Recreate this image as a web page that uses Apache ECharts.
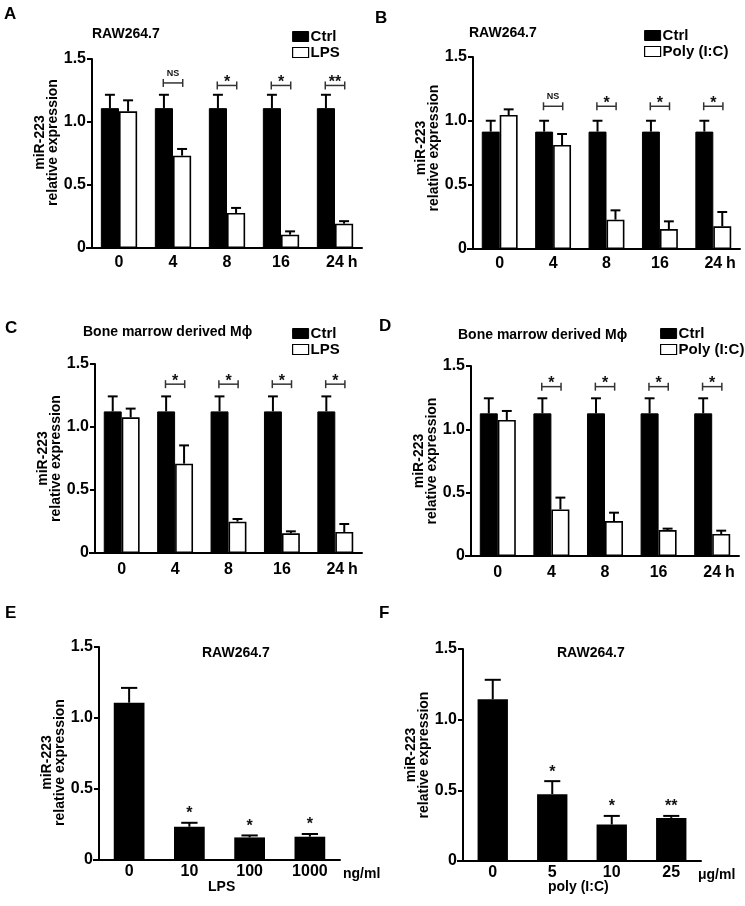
<!DOCTYPE html>
<html><head><meta charset="utf-8">
<script src="https://cdn.jsdelivr.net/npm/echarts@6/dist/echarts.min.js"></script>
<style>html,body{margin:0;padding:0;background:#fff}#c{width:745px;height:906px}</style>
</head><body><div id="c"></div>
<script>
// ---------- data ----------
const timeCats = ['0', '4', '8', '16', '24'];
const eCats = ['0', '10', '100', '1000'];
const fCats = ['0', '5', '10', '25'];
const yTickLabels = {0: '0', 0.5: '0.5', 1: '1.0', 1.5: '1.5'};

// A: RAW264.7, Ctrl vs LPS
const aCtrl = [1.11, 1.11, 1.11, 1.11, 1.11];
const aCtrlErr = [0.106, 0.106, 0.106, 0.106, 0.106];
const aLps = [1.085, 0.733, 0.278, 0.106, 0.193];
const aLpsErr = [0.087, 0.053, 0.04, 0.026, 0.02];
const aSig = [null, 'NS', '*', '*', '**'];
const aSigY = [null, 1.31, 1.29, 1.29, 1.29];

// B: RAW264.7, Ctrl vs Poly (I:C)
const bCtrl = [0.917, 0.917, 0.917, 0.917, 0.917];
const bCtrlErr = [0.085, 0.085, 0.085, 0.085, 0.085];
const bPoly = [1.047, 0.8125, 0.229, 0.156, 0.177];
const bPolyErr = [0.044, 0.086, 0.073, 0.06, 0.112];
const bSig = [null, 'NS', '*', '*', '*'];
const bSigY = [null, 1.115, 1.115, 1.115, 1.115];

// C: Bone marrow derived Mϕ, Ctrl vs LPS
const cCtrl = [1.124, 1.124, 1.124, 1.124, 1.124];
const cCtrlErr = [0.119, 0.119, 0.119, 0.119, 0.119];
const cLps = [1.077, 0.709, 0.249, 0.156, 0.167];
const cLpsErr = [0.069, 0.145, 0.021, 0.016, 0.063];
const cSig = [null, '*', '*', '*', '*'];
const cSigY = [null, 1.34, 1.34, 1.34, 1.34];

// D: Bone marrow derived Mϕ, Ctrl vs Poly (I:C)
const dCtrl = [1.126, 1.126, 1.126, 1.126, 1.126];
const dCtrlErr = [0.119, 0.119, 0.119, 0.119, 0.119];
const dPoly = [1.074, 0.368, 0.276, 0.205, 0.174];
const dPolyErr = [0.071, 0.093, 0.066, 0.011, 0.026];
const dSig = [null, '*', '*', '*', '*'];
const dSigY = [null, 1.337, 1.337, 1.337, 1.337];

// E: RAW264.7, LPS dose (ng/ml)
const eVals = [1.108, 0.234, 0.159, 0.164];
const eErr = [0.104, 0.028, 0.014, 0.019];
const eSig = [null, '*', '*', '*'];

// F: RAW264.7, poly (I:C) dose (μg/ml)
const fVals = [1.145, 0.473, 0.258, 0.305];
const fErr = [0.137, 0.092, 0.061, 0.014];
const fSig = [null, '*', '*', '**'];

// ---------- layout ----------
const FONT = 'Arial, "Liberation Sans", Helvetica, sans-serif';
const grids = [
  {left: 92, top: 59, width: 270, height: 189},
  {left: 473, top: 57, width: 267, height: 192},
  {left: 95, top: 364, width: 267, height: 189},
  {left: 471, top: 366, width: 268, height: 190},
  {left: 99, top: 647, width: 241, height: 213},
  {left: 463, top: 649, width: 238, height: 212}
];
const labelMargins = [7, 7, 9, 9, 4, 4];
const namePads = [22, 10, 0, 0, -18, 0];

const BAR_W2 = 0.336; // two bars per band
const BAR_W1 = 0.51;  // one bar per band

function errRender(offsetFrac, capFrac) {
  return function (params, api) {
    const x = api.value(0), v = api.value(1), e = api.value(2), side = api.value(3);
    const band = api.size([1, 0])[0];
    const p0 = api.coord([x, v]);
    const p1 = api.coord([x, v + e]);
    const cx = p0[0] + side * band * offsetFrac;
    const hw = band * capFrac / 2;
    return {type: 'group', children: [
      {type: 'line', shape: {x1: cx, y1: p0[1], x2: cx, y2: p1[1]}, style: {stroke: '#000', lineWidth: 2}},
      {type: 'line', shape: {x1: cx - hw, y1: p1[1], x2: cx + hw, y2: p1[1]}, style: {stroke: '#000', lineWidth: 2}}
    ]};
  };
}

function bracketRender(texts) {
  return function (params, api) {
    const x = api.value(0), y = api.value(1);
    const band = api.size([1, 0])[0];
    const p = api.coord([x, y]);
    const hw = band * 0.18;
    const t = texts[params.dataIndex];
    const isNS = t === 'NS';
    return {type: 'group', children: [
      {type: 'line', shape: {x1: p[0] - hw, y1: p[1], x2: p[0] + hw, y2: p[1]}, style: {stroke: '#333', lineWidth: 1.5}},
      {type: 'line', shape: {x1: p[0] - hw, y1: p[1] - 4, x2: p[0] - hw, y2: p[1] + 4}, style: {stroke: '#333', lineWidth: 1.5}},
      {type: 'line', shape: {x1: p[0] + hw, y1: p[1] - 4, x2: p[0] + hw, y2: p[1] + 4}, style: {stroke: '#333', lineWidth: 1.5}},
      {type: 'text', x: p[0], y: isNS ? p[1] - 5 : p[1] + 5,
        style: {text: t, fill: '#111', font: 'bold ' + (isNS ? 9 : 16) + 'px ' + FONT, align: 'center', verticalAlign: 'bottom'}}
    ]};
  };
}

function starRender(texts) {
  return function (params, api) {
    const x = api.value(0), y = api.value(1);
    const p = api.coord([x, y]);
    return {type: 'text', x: p[0], y: p[1] - 1,
      style: {text: texts[params.dataIndex], fill: '#111', font: 'bold 16px ' + FONT, align: 'center', verticalAlign: 'bottom'}};
  };
}

const option = {
  animation: false,
  backgroundColor: '#fff',
  textStyle: {fontFamily: FONT},
  grid: grids.map(g => Object.assign({containLabel: false}, g)),
  xAxis: [],
  yAxis: [],
  series: [],
  legend: [],
  title: [],
  graphic: []
};

grids.forEach((g, i) => {
  const cats = i < 4 ? timeCats : (i === 4 ? eCats : fCats);
  const xa = {
    type: 'category', gridIndex: i, data: cats, boundaryGap: true,
    axisLine: {lineStyle: {color: '#000', width: 2}},
    axisTick: {alignWithLabel: true, length: 5, lineStyle: {color: '#000', width: 2}},
    axisLabel: {color: '#000', fontSize: 16, fontWeight: 'bold', margin: labelMargins[i]},
    splitLine: {show: false}
  };
  if (i < 4) {
    xa.name = 'h';
    xa.nameLocation = 'end';
    xa.nameGap = -16;
    xa.nameTextStyle = {color: '#000', fontSize: 16, fontWeight: 'bold', verticalAlign: 'top', align: 'left', padding: [labelMargins[i], 0, 0, 0]};
  } else {
    xa.name = i === 4 ? 'ng/ml' : 'μg/ml';
    xa.nameLocation = 'end';
    xa.nameGap = i === 4 ? 3 : -3;
    xa.nameTextStyle = {color: '#000', fontSize: 14, fontWeight: 'bold', verticalAlign: 'top', align: 'left', padding: [labelMargins[i] + 3, 0, 0, 0]};
  }
  option.xAxis.push(xa);
  option.yAxis.push({
    type: 'value', gridIndex: i, min: 0, max: 1.5, interval: 0.5,
    name: 'miR-223\nrelative expression', nameLocation: 'middle', nameRotate: 90, nameGap: 31,
    nameTextStyle: {color: '#000', fontSize: 14, fontWeight: 'bold', lineHeight: 13,
      padding: namePads[i] >= 0 ? [0, 0, 0, namePads[i]] : [0, -namePads[i], 0, 0]},
    axisLine: {show: true, lineStyle: {color: '#000', width: 2}},
    axisTick: {show: true, length: 5, lineStyle: {color: '#000', width: 2}},
    axisLabel: {color: '#000', fontSize: 16, fontWeight: 'bold', margin: 6, formatter: v => yTickLabels[v]},
    splitLine: {show: false}
  });
  // x-axis line extends a few px left of the y axis
  option.graphic.push({type: 'line', shape: {x1: g.left - 6, y1: g.top + g.height, x2: g.left, y2: g.top + g.height},
    style: {stroke: '#000', lineWidth: 2}, silent: true});
});

function addPair(i, ctrlName, trtName, ctrl, ctrlErr, trt, trtErr, sig, sigY) {
  option.series.push({type: 'bar', name: ctrlName, xAxisIndex: i, yAxisIndex: i, data: ctrl,
    barWidth: (BAR_W2 * 100) + '%', barGap: '0%', itemStyle: {color: '#000', borderColor: '#000', borderWidth: 1}, emphasis: {disabled: true}});
  option.series.push({type: 'bar', name: trtName, xAxisIndex: i, yAxisIndex: i, data: trt,
    barWidth: (BAR_W2 * 100) + '%', barGap: '0%', itemStyle: {color: '#fff', borderColor: '#000', borderWidth: 1.6}, emphasis: {disabled: true}});
  const errData = [];
  ctrl.forEach((v, k) => errData.push([k, v, ctrlErr[k], -1]));
  trt.forEach((v, k) => errData.push([k, v, trtErr[k], 1]));
  option.series.push({type: 'custom', xAxisIndex: i, yAxisIndex: i, renderItem: errRender(BAR_W2 / 2, BAR_W2 * 0.55),
    data: errData, z: 5, silent: true, clip: false});
  const sd = [], st = [];
  sig.forEach((s, k) => { if (s) { sd.push([k, sigY[k]]); st.push(s); } });
  option.series.push({type: 'custom', xAxisIndex: i, yAxisIndex: i, renderItem: bracketRender(st), data: sd, z: 6, silent: true, clip: false});
}

function addSingle(i, name, vals, errs, sig) {
  option.series.push({type: 'bar', name: name, xAxisIndex: i, yAxisIndex: i, data: vals,
    barWidth: (BAR_W1 * 100) + '%', itemStyle: {color: '#000'}, emphasis: {disabled: true}});
  option.series.push({type: 'custom', xAxisIndex: i, yAxisIndex: i, renderItem: errRender(0, BAR_W1 * 0.53),
    data: vals.map((v, k) => [k, v, errs[k], 0]), z: 5, silent: true, clip: false});
  const sd = [], st = [];
  sig.forEach((s, k) => { if (s) { sd.push([k, vals[k] + errs[k]]); st.push(s); } });
  option.series.push({type: 'custom', xAxisIndex: i, yAxisIndex: i, renderItem: starRender(st), data: sd, z: 6, silent: true, clip: false});
}

addPair(0, 'Ctrl', 'LPS', aCtrl, aCtrlErr, aLps, aLpsErr, aSig, aSigY);
addPair(1, 'Ctrl', 'Poly (I:C)', bCtrl, bCtrlErr, bPoly, bPolyErr, bSig, bSigY);
addPair(2, 'Ctrl', 'LPS', cCtrl, cCtrlErr, cLps, cLpsErr, cSig, cSigY);
addPair(3, 'Ctrl', 'Poly (I:C)', dCtrl, dCtrlErr, dPoly, dPolyErr, dSig, dSigY);
addSingle(4, 'LPS dose', eVals, eErr, eSig);
addSingle(5, 'poly dose', fVals, fErr, fSig);

function legendAt(left, top, trtName) {
  return {
    orient: 'vertical', left: left, top: top, itemWidth: 16, itemHeight: 10, itemGap: 1,
    selectedMode: false,
    textStyle: {color: '#000', fontSize: 15, fontWeight: 'bold', padding: [0, 0, 0, -3]},
    data: [
      {name: 'Ctrl', icon: 'rect', itemStyle: {color: '#000', borderColor: '#000', borderWidth: 1}},
      {name: trtName, icon: 'rect', itemStyle: {color: '#fff', borderColor: '#000', borderWidth: 1.2}}
    ]
  };
}
option.legend.push(legendAt(287, 24, 'LPS'));
option.legend.push(legendAt(639, 23, 'Poly (I:C)'));
option.legend.push(legendAt(287, 321, 'LPS'));
option.legend.push(legendAt(655, 321, 'Poly (I:C)'));

const tStyle = {color: '#000', fontSize: 14, fontWeight: 'bold', fontFamily: FONT};
const lStyle = {color: '#000', fontSize: 17, fontWeight: 'bold', fontFamily: FONT};
option.title = [
  {text: 'RAW264.7', left: 92, top: 27, textStyle: tStyle, padding: 0},
  {text: 'RAW264.7', left: 469, top: 26, textStyle: tStyle, padding: 0},
  {text: 'Bone marrow derived Mϕ', left: 83, top: 325, textStyle: tStyle, padding: 0},
  {text: 'Bone marrow derived Mϕ', left: 458, top: 328, textStyle: tStyle, padding: 0},
  {text: 'RAW264.7', left: 202, top: 646, textStyle: tStyle, padding: 0},
  {text: 'RAW264.7', left: 557, top: 646, textStyle: tStyle, padding: 0},
  {text: 'LPS', left: 208, top: 880, textStyle: tStyle, padding: 0},
  {text: 'poly (I:C)', left: 548, top: 880, textStyle: tStyle, padding: 0},
  {text: 'A', left: 4, top: 6, textStyle: lStyle, padding: 0},
  {text: 'B', left: 375, top: 10, textStyle: lStyle, padding: 0},
  {text: 'C', left: 5, top: 320, textStyle: lStyle, padding: 0},
  {text: 'D', left: 379, top: 318, textStyle: lStyle, padding: 0},
  {text: 'E', left: 5, top: 605, textStyle: lStyle, padding: 0},
  {text: 'F', left: 379, top: 605, textStyle: lStyle, padding: 0}
];

const chart = echarts.init(document.getElementById('c'), null, {renderer: 'canvas'});
chart.setOption(option);
</script>
</body></html>
